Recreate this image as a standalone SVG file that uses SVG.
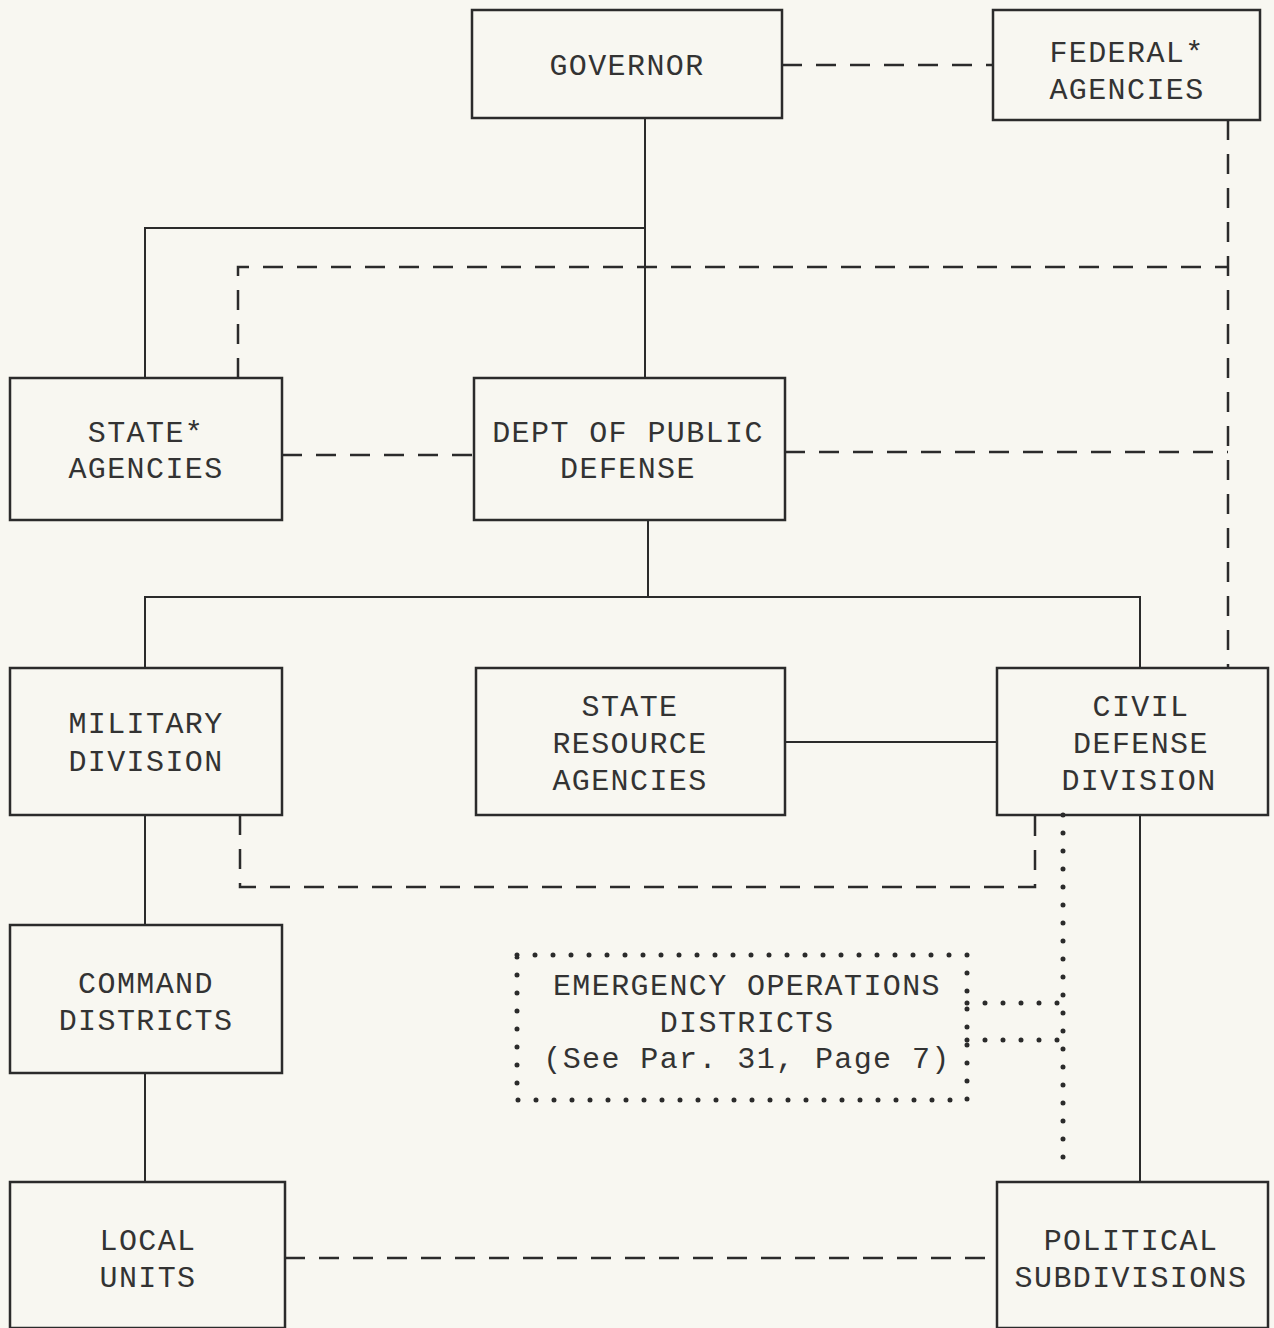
<svg xmlns="http://www.w3.org/2000/svg" width="1274" height="1328" viewBox="0 0 1274 1328">
<style>
.box{fill:none;stroke:#2b2b2b;stroke-width:2.5}
.t{font-family:"Liberation Mono","DejaVu Sans Mono",monospace;font-size:30px;letter-spacing:1.4px;fill:#333;text-anchor:middle}
.solid{fill:none;stroke:#2b2b2b;stroke-width:2}
.dash{fill:none;stroke:#2b2b2b;stroke-width:2.5;stroke-dasharray:20 14}
.dot{fill:none;stroke:#2b2b2b;stroke-width:5;stroke-linecap:round;stroke-dasharray:0 18}
</style>
<rect width="1274" height="1328" fill="#f8f7f1"/>
<g id="connectors">
<path class="solid" d="M645 118V378M145 378V228H645M648 520V597M145 668V597H1140V668M785 742H997M145 815V925M145 1073V1182M1140 815V1182"/>
<path class="dash" d="M782 65H993"/>
<path class="dash" d="M238 378V267H1228"/>
<path class="dash" d="M1228 120V668"/>
<path class="dash" d="M282 455H474"/>
<path class="dash" d="M785 452H1228"/>
<path class="dash" d="M240 815V887H1035V815"/>
<path class="dash" d="M285 1258H997"/>
<path class="dot" d="M1063 815V1174"/>
<path class="dot" d="M967 1003H1063M967 1040H1063"/>
</g>
<g id="governor"><rect class="box" x="472" y="10" width="310" height="108"/><text class="t" x="627" y="75">GOVERNOR</text></g>
<g id="federal"><rect class="box" x="993" y="10" width="267" height="110"/><text class="t" x="1127" y="62">FEDERAL*</text><text class="t" x="1127" y="99">AGENCIES</text></g>
<g id="state-agencies"><rect class="box" x="10" y="378" width="272" height="142"/><text class="t" x="146" y="442">STATE*</text><text class="t" x="146" y="478">AGENCIES</text></g>
<g id="dept"><rect class="box" x="474" y="378" width="311" height="142"/><text class="t" x="628" y="442">DEPT OF PUBLIC</text><text class="t" x="628" y="478">DEFENSE</text></g>
<g id="military"><rect class="box" x="10" y="668" width="272" height="147"/><text class="t" x="146" y="733">MILITARY</text><text class="t" x="146" y="771">DIVISION</text></g>
<g id="resource"><rect class="box" x="476" y="668" width="309" height="147"/><text class="t" x="630" y="716">STATE</text><text class="t" x="630" y="753">RESOURCE</text><text class="t" x="630" y="790">AGENCIES</text></g>
<g id="civil"><rect class="box" x="997" y="668" width="271" height="147"/><text class="t" x="1141" y="716">CIVIL</text><text class="t" x="1141" y="753">DEFENSE</text><text class="t" x="1139" y="790">DIVISION</text></g>
<g id="command"><rect class="box" x="10" y="925" width="272" height="148"/><text class="t" x="146" y="993">COMMAND</text><text class="t" x="146" y="1030">DISTRICTS</text></g>
<g id="eod"><rect class="dot" x="517" y="955" width="450" height="145"/><text class="t" x="747" y="995">EMERGENCY OPERATIONS</text><text class="t" x="747" y="1032">DISTRICTS</text><text class="t" x="747" y="1068">(See Par. 31, Page 7)</text></g>
<g id="local"><rect class="box" x="10" y="1182" width="275" height="146"/><text class="t" x="148" y="1250">LOCAL</text><text class="t" x="148" y="1287">UNITS</text></g>
<g id="political"><rect class="box" x="997" y="1182" width="271" height="146"/><text class="t" x="1131" y="1250">POLITICAL</text><text class="t" x="1131" y="1287">SUBDIVISIONS</text></g>
</svg>
